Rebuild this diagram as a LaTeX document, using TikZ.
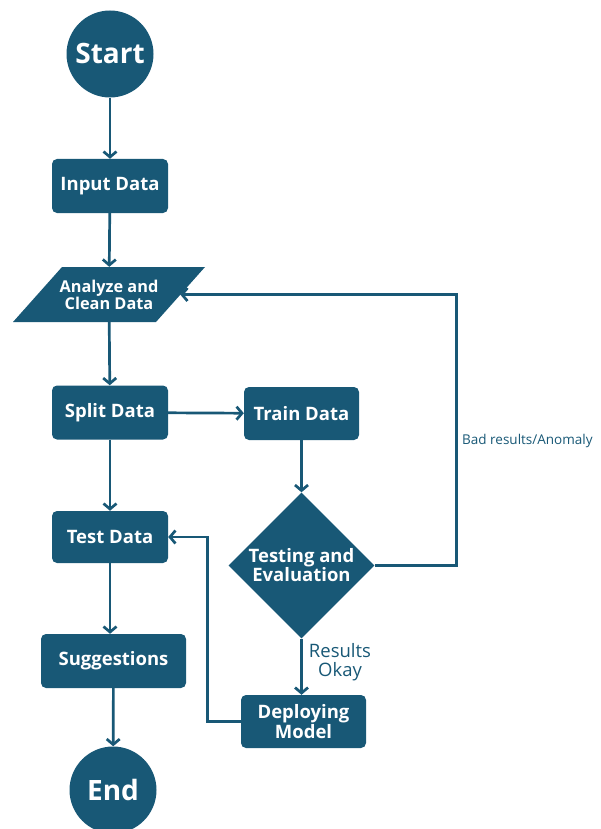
\documentclass[tikz,border=0pt]{standalone}
\usepackage{fontspec}
\setmainfont{Open Sans}
\usetikzlibrary{arrows.meta,shapes.geometric}
\definecolor{main}{RGB}{24,88,118}
\begin{document}
\begin{tikzpicture}[x=1pt,y=-1pt,
  box/.style={fill=main, text=white, rounded corners=5pt, inner sep=0pt,
    font=\bfseries\fontsize{18.5}{17.5}\selectfont, align=center,
    minimum width=116pt, minimum height=54pt},
  term/.style={circle, fill=main, text=white, inner sep=0pt, minimum size=87pt,
    font=\bfseries\fontsize{28}{30}\selectfont},
  arr/.style={draw=main, line width=2.7pt, -{Straight Barb[length=5.5pt,width=13pt]}},
  lab/.style={text=main, inner sep=0pt}
]
\useasboundingbox (0,0) rectangle (601,829);
% nodes
\node[term] (start) at (110,54) {Start};
\node[box] (input) at (110,186) {Input Data};
\fill[main] (13,322) -- (62,267) -- (205,267) -- (156,322) -- cycle;
\node[inner sep=0pt, minimum width=142pt, minimum height=55pt, text=white,
  align=center, font=\bfseries\fontsize{16.3}{17}\selectfont] (analyze) at (109,294.5) {Analyze and\\Clean Data};
\node[box] (split) at (110,412.5) {Split Data};
\node[box, minimum width=115pt, minimum height=53pt] (train) at (301.5,413.5) {Train Data};
\node[diamond, fill=main, inner sep=0pt, minimum width=146pt, minimum height=146pt] (eval) at (301.5,565.5) {};
\node[text=white, align=center, font=\bfseries\fontsize{18.5}{18}\selectfont] (evaltext) at (301.5,565) {Testing and\\Evaluation};
\node[box, minimum height=52pt] (test) at (110,537) {Test Data};
\node[box, minimum width=145pt] (sugg) at (113.5,661) {Suggestions};
\node[box, minimum width=125pt, minimum height=53pt] (deploy) at (303.5,721.5) {Deploying\\Model};
\node[term] (end) at (113,790) {End};
% labels
\node[lab, anchor=west, font=\fontsize{13.5}{15}\selectfont] (badlab) at (462,441) {Bad results/Anomaly};
\node[lab, align=center, font=\fontsize{18.5}{19}\selectfont] (oklab) at (340,662) {Results\\Okay};
% connectors
\draw[arr] (start) -- (input);
\draw[arr] (input) -- (analyze);
\draw[arr] (analyze) -- (split);
\draw[arr] (split) -- (train);
\draw[arr] (train) -- (eval);
\draw[arr] (split) -- (test);
\draw[arr] (test) -- (sugg.north -| test);
\draw[arr] (sugg) -- (end);
\draw[arr] (eval.south) -- (deploy.north -| eval.south);
\draw[arr] (eval.east) -- ++(82,0) |- (analyze.east);
\draw[arr] (deploy.west) -- ++(-33,0) |- (test.east);
\end{tikzpicture}
\end{document}
